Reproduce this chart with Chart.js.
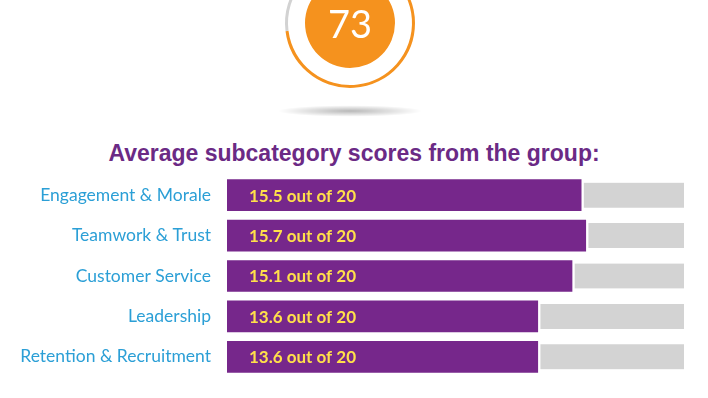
<!DOCTYPE html>
<html>
<head>
<meta charset="utf-8">
<script src="https://cdn.jsdelivr.net/npm/chart.js@4"></script>
<style>
html, body { margin: 0; padding: 0; background: #fff; width: 708px; height: 398px; overflow: hidden; }
#gauge { position: absolute; left: 250px; top: -47px; width: 200px; height: 180px; }
#title { position: absolute; left: 0; top: 140px; width: 708px; text-align: center;
	font: bold 23px "Liberation Sans", Arial, sans-serif; color: #6b2a85; }
#bars { position: absolute; left: 0; top: 175px; width: 708px; height: 202px; }
</style>
</head>
<body>
<canvas id="gauge" width="200" height="180"></canvas>
<div id="title">Average subcategory scores from the group:</div>
<canvas id="bars" width="708" height="202"></canvas>
<script>
// values
const overallScore = 73;
const overallMax = 100;
const categories = ["Engagement & Morale", "Teamwork & Trust", "Customer Service", "Leadership", "Retention & Recruitment"];
const scores = [15.5, 15.7, 15.1, 13.6, 13.6];
const maxScore = 20;

const orange = "#f5921e";
const purple = "#76278b";
const blue = "#2b9fd6";
const yellow = "#ffe04a";

// what is left up to the max, shown as the grey track
const remaining = scores.map(s => maxScore - s);

// gauge: thin outer ring, empty gap, filled centre
let gaugeText = {
	id: "gaugeText",
	beforeDraw(chart) {
		// soft shadow under the badge
		let ctx = chart.ctx;
		let a = chart.chartArea;
		let cx = (a.left + a.right) / 2;
		ctx.save();
		ctx.translate(cx, a.bottom + 18);
		ctx.scale(1, 0.08);
		let g = ctx.createRadialGradient(0, 0, 0, 0, 0, 72);
		g.addColorStop(0, "rgba(0,0,0,0.28)");
		g.addColorStop(1, "rgba(0,0,0,0)");
		ctx.fillStyle = g;
		ctx.beginPath();
		ctx.arc(0, 0, 72, 0, Math.PI * 2);
		ctx.fill();
		ctx.restore();
	},
	afterDraw(chart) {
		let ctx = chart.ctx;
		let a = chart.chartArea;
		ctx.save();
		ctx.fillStyle = "#fff";
		ctx.font = "38px Lato";
		ctx.textAlign = "center";
		ctx.textBaseline = "middle";
		ctx.fillText(String(overallScore), (a.left + a.right) / 2, (a.top + a.bottom) / 2 + 3);
		ctx.restore();
	}
};

new Chart(document.getElementById("gauge"), {
	type: "doughnut",
	data: {
		datasets: [
			{ data: [overallScore, overallMax - overallScore], backgroundColor: [orange, "#d2d2d2"], weight: 3 },
			{ data: [overallMax], backgroundColor: ["rgba(0,0,0,0)"], weight: 17 },
			{ data: [overallMax], backgroundColor: [orange], weight: 45 }
		]
	},
	options: {
		responsive: false,
		animation: false,
		events: [],
		cutout: 0,
		radius: 65,
		borderWidth: 0,
		layout: { padding: { bottom: 40 } },
		plugins: { legend: { display: false }, tooltip: { enabled: false } }
	},
	plugins: [gaugeText]
});

// score text inside each purple bar
let barText = {
	id: "barText",
	afterDatasetsDraw(chart) {
		let ctx = chart.ctx;
		let meta = chart.getDatasetMeta(0);
		ctx.save();
		ctx.fillStyle = yellow;
		ctx.font = "bold 17px Lato";
		ctx.textAlign = "left";
		ctx.textBaseline = "middle";
		meta.data.forEach((bar, i) => {
			ctx.fillText(scores[i].toFixed(1) + " out of " + maxScore, bar.base + 22, bar.y + 1);
		});
		ctx.restore();
	}
};

new Chart(document.getElementById("bars"), {
	type: "bar",
	data: {
		labels: categories,
		datasets: [
			{ data: scores, backgroundColor: purple, barThickness: 31, borderWidth: 0 },
			{
				data: remaining, backgroundColor: "#d3d3d3", barThickness: 25,
				borderColor: "#fff", borderWidth: { left: 3, right: 0, top: 0, bottom: 0 }, borderSkipped: false
			}
		]
	},
	options: {
		indexAxis: "y",
		responsive: false,
		animation: false,
		events: [],
		layout: { padding: { left: 0, right: 24, top: 0, bottom: 0 } },
		scales: {
			x: { stacked: true, min: 0, max: maxScore, display: false },
			y: {
				stacked: true,
				grid: { display: false },
				border: { display: false },
				ticks: { color: blue, font: { family: "Lato", size: 17.5 }, padding: 8 },
				// fixed label column, no extra top/bottom padding
				afterFit(scale) { scale.width = 227; scale.paddingTop = 0; scale.paddingBottom = 0; }
			}
		},
		plugins: { legend: { display: false }, tooltip: { enabled: false } }
	},
	plugins: [barText]
});
</script>
</body>
</html>
